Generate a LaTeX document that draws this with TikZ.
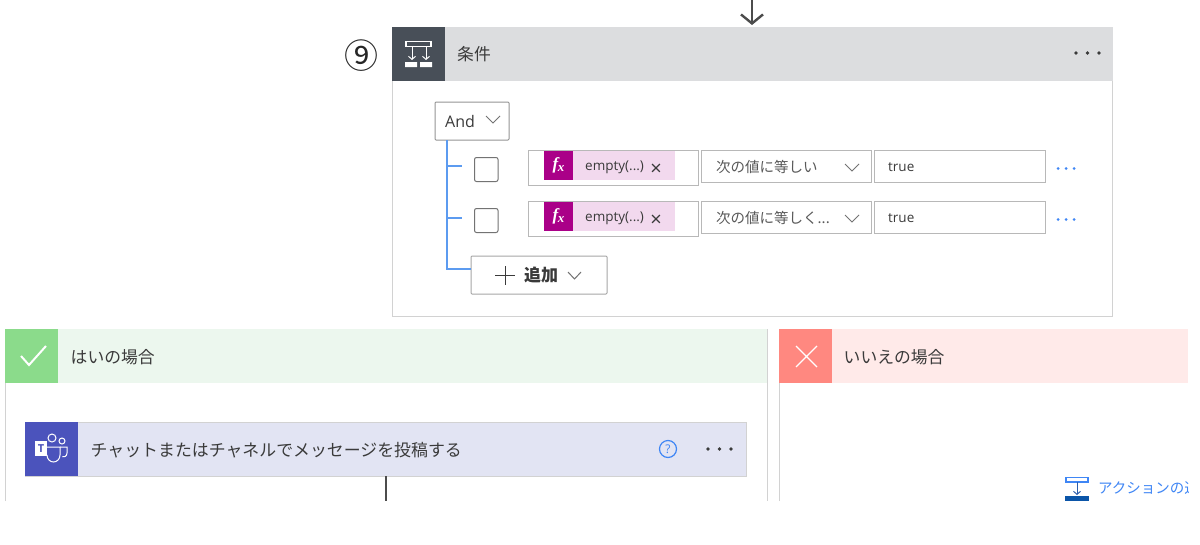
\documentclass[tikz,border=0pt]{standalone}
\usepackage{fontspec}
\setmainfont{Open Sans}
\newfontfamily\jpfont{Noto Sans CJK JP}
\newfontfamily\fxfont{Liberation Serif}
\usetikzlibrary{arrows.meta, calc, positioning}
\definecolor{cardline}{HTML}{D2D2D2}
\definecolor{fieldline}{HTML}{B8B8B8}
\definecolor{linkblue}{HTML}{3F86F5}
\definecolor{treeblue}{HTML}{5C9BF0}
\definecolor{inktext}{HTML}{3A3A3A}
\definecolor{condhead}{HTML}{DCDDDF}
\definecolor{condicon}{HTML}{484F58}
\definecolor{fxpink}{HTML}{F2D9EE}
\definecolor{fxicon}{HTML}{AA0088}
\definecolor{yeshead}{HTML}{ECF7EE}
\definecolor{yesicon}{HTML}{8BDB8B}
\definecolor{nohead}{HTML}{FFEAE9}
\definecolor{noicon}{HTML}{FF8880}
\definecolor{teamshead}{HTML}{E2E4F3}
\definecolor{teamsicon}{HTML}{4B53BC}
\definecolor{actionbar}{HTML}{0B55A8}
\newcommand{\pxfont}[1]{\fontsize{#1}{#1}\selectfont}
\newcommand{\OpOne}{次の値に等しい}
\newcommand{\OpTwo}{次の値に等しく...}
\tikzstyle{card} = [rectangle, anchor=north west, inner sep=0pt, outer sep=0pt, draw=cardline]
\tikzstyle{head} = [rectangle, anchor=north west, inner sep=0pt, outer sep=0pt]
\tikzstyle{title} = [anchor=west, inner sep=0pt, text=inktext, font=\jpfont\pxfont{16.8}]
\tikzstyle{field} = [rectangle, anchor=north west, inner sep=0pt, outer sep=0pt, draw=fieldline, fill=white, line width=1pt]
\tikzstyle{label} = [anchor=west, inner sep=0pt, text=inktext, font=\pxfont{13.5}]
\tikzstyle{jplabel} = [anchor=west, inner sep=0pt, text=black!65, font=\jpfont\pxfont{14.5}]
\tikzstyle{tree} = [draw=treeblue, line width=1.2pt]
\tikzstyle{chevron} = [draw=black!55, line width=1pt]
\tikzstyle{whiteicon} = [draw=white, line width=1.5pt]
\tikzstyle{dot} = [circle, inner sep=0pt, minimum size=3.6pt, fill=inktext]
\tikzstyle{bluedot} = [circle, inner sep=0pt, minimum size=3pt, fill=linkblue]
\begin{document}
\begin{tikzpicture}[x=1pt, y=-1pt]
	\useasboundingbox (0,0) rectangle (1200,544);
	\fill[white] (0,0) rectangle (1200,544);
	% condition card
	\node (CondCard) [card, minimum width=720.5pt, minimum height=289.5pt, line width=1pt] at (392,27) {};
	\node (CondHead) [head, fill=condhead, minimum width=720.5pt, minimum height=54pt] at (392,27) {};
	\node (CondIcon) [head, fill=condicon, minimum width=53pt, minimum height=54pt] at (392,27) {};
	\coordinate (TopStart) at (752,0);
	\draw [line width=2.4pt, black!70, shorten >=2pt, -{Straight Barb[length=9pt, width=22pt, line width=2.4pt]}] (TopStart) -- (CondCard.north -| TopStart);
	\node (StepNumber) [inner sep=0pt, font=\jpfont\pxfont{34}, text=black!85] at (361,56) {⑨};
	\node (CondTitle) [title] at (457,54) {条件};
	\foreach \i in {0,1,2} \node (CondDot\i) [dot] at (1076+\i*11.5,53) {};
	\draw [whiteicon] (406,41.5) rectangle (431,46.5);
	\draw [whiteicon, line width=1pt, -{Straight Barb[length=3pt, width=7pt]}] (412,47) -- (412,60);
	\draw [whiteicon, line width=1pt, -{Straight Barb[length=3pt, width=7pt]}] (426,47) -- (426,60);
	\fill[white] (405,62) rectangle (417,67) (420,62) rectangle (432,67);
	% and box and tree
	\node (AndBox) [field, minimum width=74pt, minimum height=38pt, draw=black!42, rounded corners=1pt] at (435,102) {};
	\node (AndText) [label, font=\pxfont{16}] at (445,121.5) {And};
	\draw [chevron] (486,116) -- (493,123) -- (500,116);
	\coordinate (TreeOne) at (462,166);
	\coordinate (TreeTwo) at (462,218);
	\node (AddBox) [field, minimum width=136pt, minimum height=38pt, draw=black!35, rounded corners=1pt] at (471,256) {};
	\draw [tree] (447,140) -- (447,269) -- (AddBox.west |- 0,269);
	\draw [tree] (447,166) -- (TreeOne);
	\draw [tree] (447,218) -- (TreeTwo);
	\draw [line width=1pt, inktext] (495,275) -- (515,275) (505,266) -- (505,285);
	\node (AddText) [title, font=\jpfont\bfseries\pxfont{17}] at (524,275) {追加};
	\draw [chevron] (568,272) -- (574.5,279) -- (581,272);
	% rows of the condition
	\foreach \name/\ytop/\optext in {One/150/\OpOne, Two/201/\OpTwo} {
		\node (Check\name) [field, minimum width=23.5pt, minimum height=24pt, draw=black!55, rounded corners=2pt] at (474.5,\ytop+7.5) {};
		\node (Field\name) [field, minimum width=170pt, minimum height=35pt] at (528,\ytop) {};
		\node (Pink\name) [head, fill=fxpink, minimum width=131pt, minimum height=28.5pt] at (544,\ytop+1) {};
		\node (Fx\name) [head, fill=fxicon, minimum width=29pt, minimum height=28.5pt] at (544,\ytop+1) {};
		\node (FxText\name) [inner sep=0pt, text=white, font=\fxfont\bfseries\itshape\pxfont{17}] at (Fx\name.center) {f\kern-0.5pt\raisebox{-2pt}{\pxfont{13}x}};
		\node (Empty\name) [label] at (585,\ytop+17) {empty(...)};
		\node (Close\name) [inner sep=0pt, text=inktext, font=\pxfont{20}] at (656,\ytop+20) {×};
		\node (Operator\name) [field, minimum width=170pt, minimum height=32pt] at (701,\ytop) {};
		\node (OpText\name) [jplabel] at (716,\ytop+16.5) {\optext};
		\draw [chevron] (845,\ytop+14) -- (852,\ytop+21) -- (859,\ytop+14);
		\node (Value\name) [field, minimum width=171pt, minimum height=32pt] at (874,\ytop) {};
		\node (TrueText\name) [label] at (888,\ytop+17) {true};
		\foreach \i in {0,1,2} \node (More\name\i) [bluedot] at (1058+\i*8,\ytop+18.5) {};
	}
	% yes and no panels
	\draw [cardline] (5,501) -- (5,329) -- (767,329) -- (767,501);
	\node (YesHead) [head, fill=yeshead, minimum width=761.5pt, minimum height=54pt] at (5,329) {};
	\node (YesIcon) [head, fill=yesicon, minimum width=53pt, minimum height=54pt] at (5,329) {};
	\draw [whiteicon, line width=2pt] (21,356) -- (29,365) -- (46,346);
	\node (YesTitle) [title] at (70.5,357) {はいの場合};
	\draw [cardline] (779,501) -- (779,329) -- (1188,329);
	\node (NoHead) [head, fill=nohead, minimum width=409pt, minimum height=54pt] at (779,329) {};
	\node (NoIcon) [head, fill=noicon, minimum width=53pt, minimum height=54pt] at (779,329) {};
	\draw [whiteicon, line width=1.2pt] (796,346) -- (817,367) (817,346) -- (796,367);
	\node (NoTitle) [title] at (843.5,357) {いいえの場合};
	% teams action
	\node (TeamsCard) [card, fill=teamshead, minimum width=721.5pt, minimum height=54pt] at (25,422) {};
	\node (TeamsIcon) [head, fill=teamsicon, minimum width=53pt, minimum height=54pt] at (25,422) {};
	\draw [whiteicon, line width=1pt] (52,438) circle (4) (62,441) circle (3);
	\draw [whiteicon, line width=1pt] (47,447) -- (60,447) -- (60,455) arc (0:180:6.5 and 7);
	\draw [whiteicon, line width=1pt] (60,447) -- (67,447) -- (67,453) arc (0:110:3.5 and 4);
	\fill[white] (35,441) rectangle (47,456);
	\node (TeamsT) [inner sep=0pt, text=teamsicon, font=\bfseries\pxfont{11}] at (41,448.5) {T};
	\node (TeamsTitle) [title, font=\jpfont\pxfont{16.9}] at (90.5,450) {チャットまたはチャネルでメッセージを投稿する};
	\node (HelpIcon) [circle, draw=linkblue, line width=1.2pt, minimum size=17pt, inner sep=0pt, text=linkblue, font=\pxfont{12}] at (668,449) {?};
	\foreach \i in {0,1,2} \node (TeamsDot\i) [dot] at (708+\i*11.5,449) {};
	\coordinate (TeamsEnd) at (386,501);
	\draw [line width=2.4pt, black!70] (TeamsEnd |- TeamsCard.south) -- (TeamsEnd);
	% add action link
	\draw [linkblue, line width=1.2pt] (1066,477.5) rectangle (1088,482);
	\draw [linkblue!70!black, line width=1pt, -{Straight Barb[length=3pt, width=7pt]}] (1077,482) -- (1077,495);
	\fill[actionbar] (1065,496) rectangle (1089,500.5);
	\begin{scope}
		\clip (1090,470) rectangle (1188,505);
		\node (ActionText) [title, text=linkblue, font=\jpfont\pxfont{14.5}] at (1098,488) {アクションの追加};
	\end{scope}
\end{tikzpicture}
\end{document}
